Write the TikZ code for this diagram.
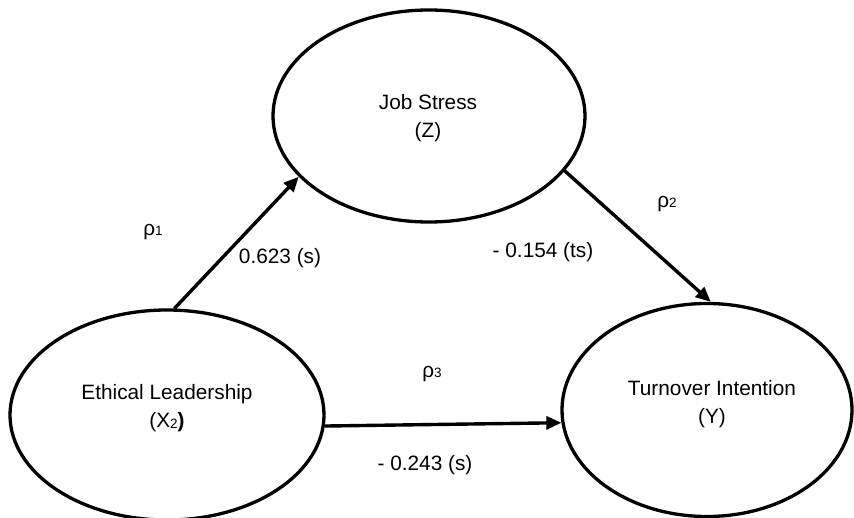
\documentclass[tikz,border=0pt]{standalone}
\usepackage{fontspec}
\setmainfont{Liberation Sans}
\usetikzlibrary{shapes.geometric,arrows.meta}
\newcommand{\smallsub}[1]{{\fontsize{13.5}{13.5}\selectfont #1}}
\begin{document}
\begin{tikzpicture}[x=1pt,y=-1pt,
  latent/.style={draw=black,line width=3.3pt,ellipse,inner sep=0pt},
  path/.style={line width=3.4pt,-{Triangle[length=15pt,width=13pt]}},
  txt/.style={inner sep=0pt,align=center,font=\fontsize{20.8}{28}\selectfont},
  lbl/.style={inner sep=0pt,anchor=base,font=\fontsize{20.8}{24}\selectfont}]
\useasboundingbox (0,0) rectangle (854,518);
\node[latent,minimum width=312pt,minimum height=212pt] (js) at (429,116) {};
\node[latent,minimum width=314pt,minimum height=210pt] (el) at (167,415) {};
\node[latent,minimum width=290pt,minimum height=213pt] (ti) at (707,410) {};
\node[txt] (jst) at (428,118) {Job Stress\\(Z)};
\node[txt] (elt) at (167,408) {Ethical Leadership\\(X\raisebox{-1pt}{\smallsub{2}}\textbf{)}};
\node[txt] (tit) at (712,404) {Turnover Intention\\(Y)};
\draw[path] (el.86.7) -- (js.205);
\draw[path] (js.338) -- (ti.88);
\draw[path] (el.-4) -- (ti.185);
\node[lbl] (p1) at (153,236) {ρ\smallsub{1}};
\node[lbl] (v1) at (280,264) {0.623 (s)};
\node[lbl] (p2) at (667,208) {ρ\smallsub{2}};
\node[lbl] (v2) at (543,258) {- 0.154 (ts)};
\node[lbl] (p3) at (432,378) {ρ\smallsub{3}};
\node[lbl] (v3) at (425,470) {- 0.243 (s)};
\end{tikzpicture}
\end{document}
